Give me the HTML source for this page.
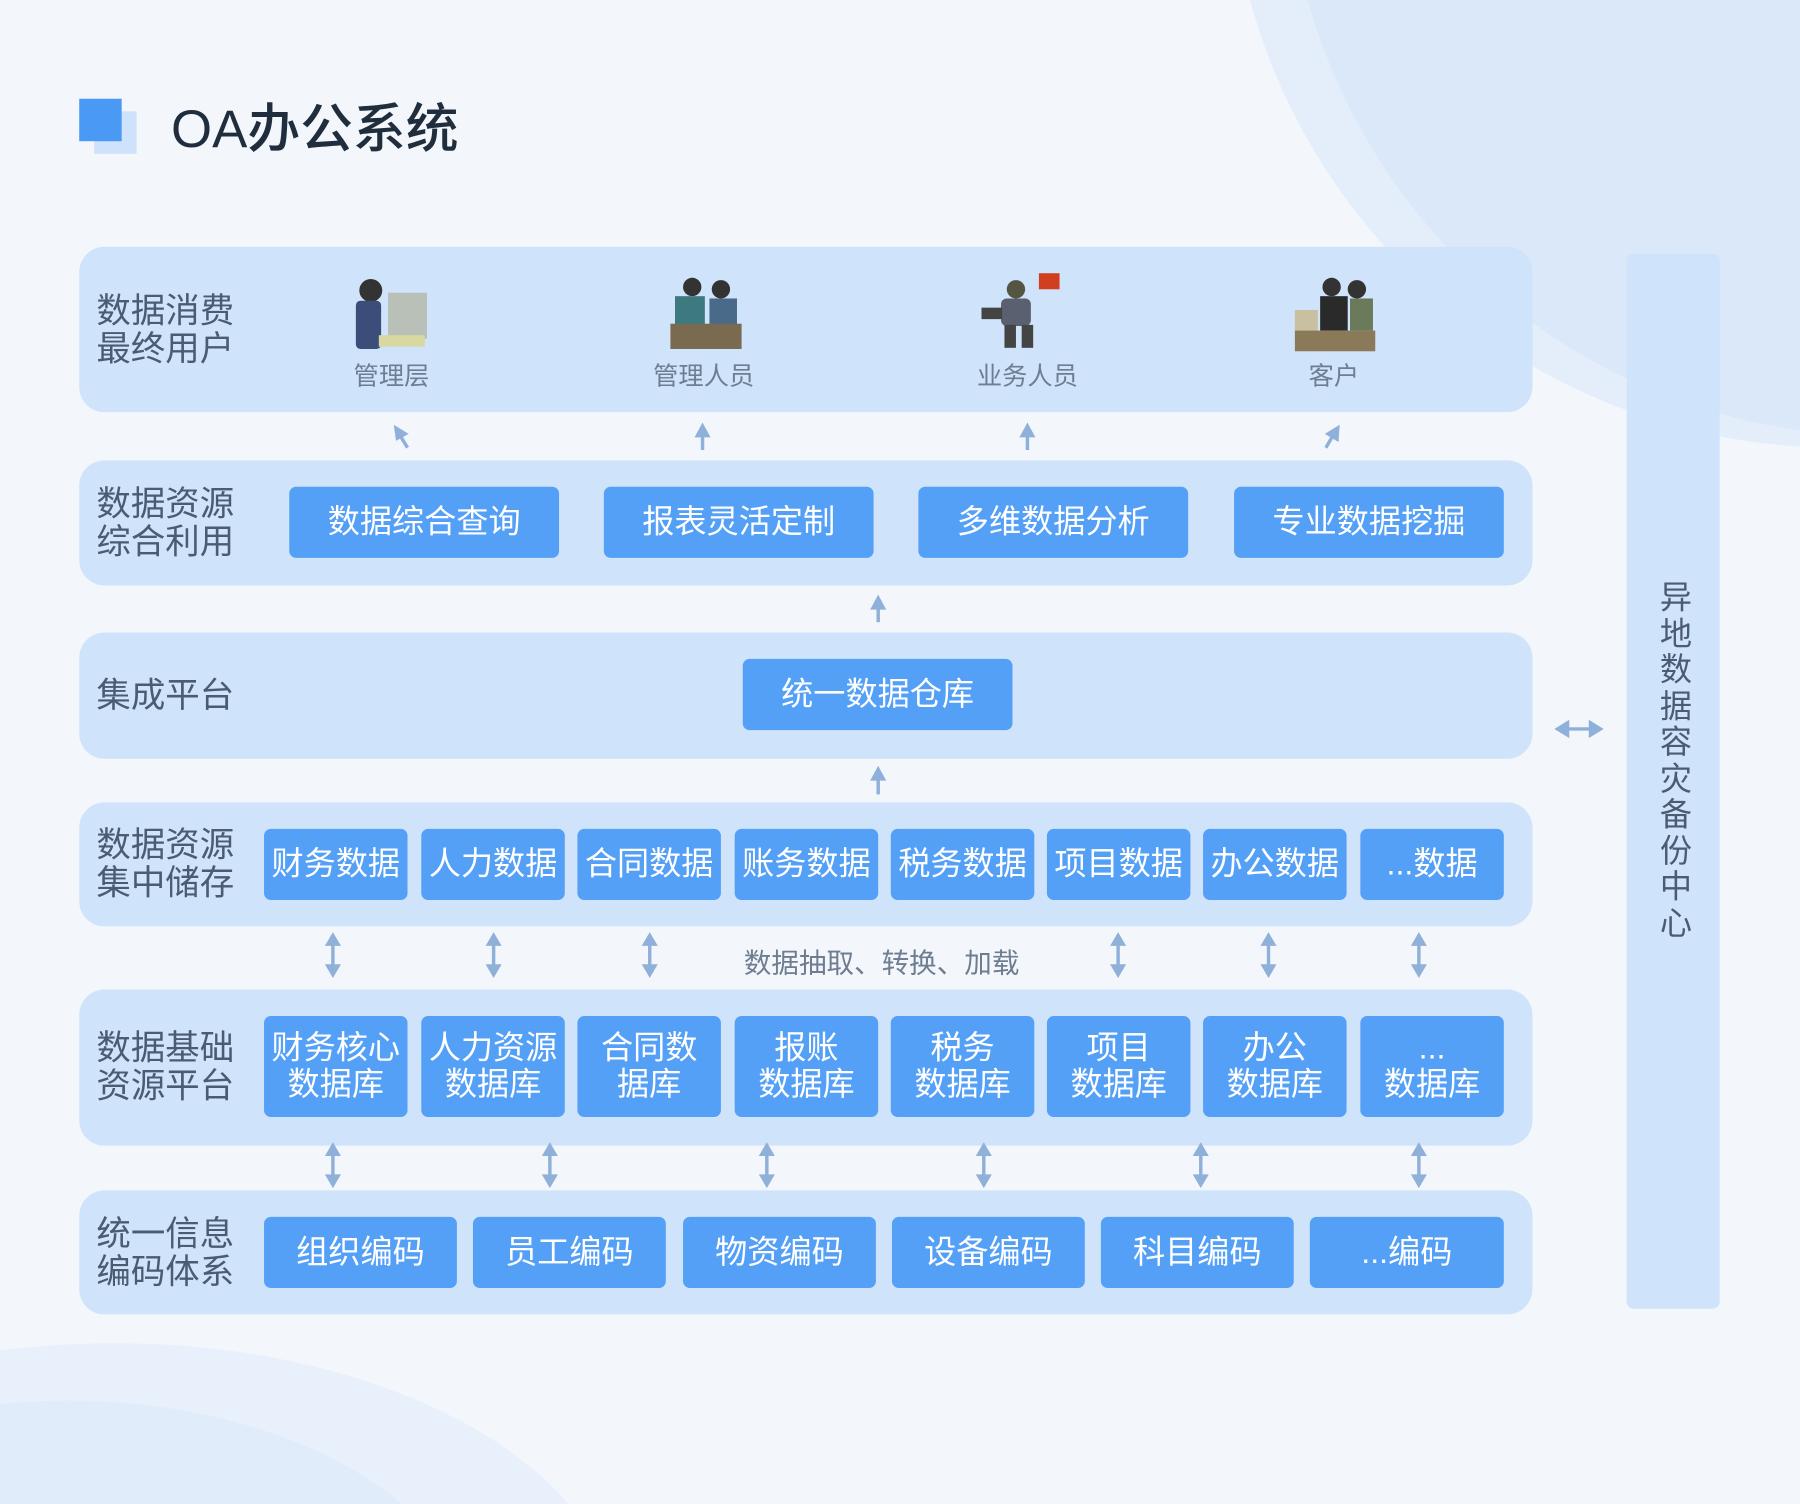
<!DOCTYPE html>
<html><head><meta charset="utf-8"><style>
html,body{margin:0;padding:0;width:1800px;height:1504px;overflow:hidden;background:#f3f7fc;position:relative}
#w{position:absolute;left:0;top:0;width:1800px;height:1504px;overflow:hidden}
#c{position:absolute;left:0;top:0;width:1568px;height:1310px;transform:scale(1.147959);transform-origin:0 0;font-family:"Liberation Sans","Noto Sans CJK SC",sans-serif;overflow:hidden}
.a{position:absolute}
.p{position:absolute;left:69px;width:1266px;background:#cfe3fb;border-radius:22px}
.lb{position:absolute;left:84px;font-size:30px;line-height:33px;color:#4b5b70}
.b{position:absolute;background:#55a0f7;color:#fff;border-radius:6px;display:flex;align-items:center;justify-content:center;text-align:center;font-size:28px;line-height:32px}
.u{position:absolute;font-size:22px;color:#6e7e90;transform:translateX(-50%);top:310px}
</style></head><body><div id="w"><div id="c">
<svg class="a" style="left:0;top:0" width="1568" height="1310">
<circle cx="1600" cy="-140" r="530" fill="#e4eefb"/>
<circle cx="1640" cy="-140" r="520" fill="#dae8fa"/>
<ellipse cx="100" cy="1420" rx="440" ry="250" fill="#e8f0fb"/>
<ellipse cx="60" cy="1440" rx="360" ry="220" fill="#e1ecfa"/>
</svg>
<div class="a" style="left:82px;top:97px;width:37px;height:37px;background:#cfe2fb"></div>
<div class="a" style="left:69px;top:86px;width:37px;height:37px;background:#4a9af5"></div>
<div class="a" style="left:149px;top:76px;font-size:46px;font-weight:500;color:#1f2d3d">OA办公系统</div>

<div class="p" style="top:215px;height:144px"></div>
<div class="p" style="top:401px;height:109px"></div>
<div class="p" style="top:551px;height:110px"></div>
<div class="p" style="top:699px;height:108px"></div>
<div class="p" style="top:862px;height:136px"></div>
<div class="p" style="top:1037px;height:108px"></div>
<div class="a" style="left:1417px;top:221px;width:81px;height:919px;background:#cfe3fb;border-radius:6px"></div>
<div class="a" style="left:1444px;top:505px;width:32px;font-size:28px;line-height:31.5px;color:#4b5b70;text-align:center">异地数据容灾备份中心</div>

<div class="lb" style="top:255px">数据消费<br>最终用户</div>
<div class="lb" style="top:423px">数据资源<br>综合利用</div>
<div class="lb" style="top:590px">集成平台</div>
<div class="lb" style="top:720px">数据资源<br>集中储存</div>
<div class="lb" style="top:897px">数据基础<br>资源平台</div>
<div class="lb" style="top:1059px">统一信息<br>编码体系</div>

<svg class="a" style="left:0;top:0" width="1568" height="1310">
<g>
<circle cx="323" cy="253" r="10" fill="#333"/><rect x="310" y="262" width="22" height="42" rx="4" fill="#3b4e7a"/><rect x="338" y="255" width="34" height="40" fill="#b8c0b8"/><rect x="330" y="292" width="40" height="10" fill="#d8d8a0"/>
<circle cx="603" cy="250" r="8" fill="#333"/><circle cx="628" cy="252" r="8" fill="#333"/><rect x="588" y="258" width="26" height="26" fill="#3d7a80"/><rect x="618" y="260" width="24" height="24" fill="#4a6a8a"/><rect x="584" y="282" width="62" height="22" fill="#7a6a50"/>
<circle cx="885" cy="252" r="8" fill="#554"/><rect x="872" y="260" width="26" height="24" rx="5" fill="#5a6070"/><rect x="875" y="283" width="10" height="20" fill="#444"/><rect x="890" y="283" width="10" height="20" fill="#444"/><rect x="905" y="238" width="18" height="14" fill="#d04020"/><rect x="855" y="268" width="18" height="10" fill="#444"/>
<circle cx="1160" cy="250" r="8" fill="#333"/><circle cx="1182" cy="252" r="8" fill="#333"/><rect x="1150" y="258" width="24" height="30" fill="#2a2a2a"/><rect x="1176" y="260" width="20" height="28" fill="#6a7a5a"/><rect x="1128" y="270" width="20" height="20" fill="#c8c0a0"/><rect x="1128" y="288" width="70" height="18" fill="#8a7a5a"/>
</g>
<g fill="#8fb0d8" stroke="#8fb0d8" stroke-width="3">
<line x1="355" y1="390" x2="347" y2="377"/><polygon points="343,370 356,378 345,384" stroke="none"/>
<line x1="612" y1="392" x2="612" y2="378"/><polygon points="612,368 619,381 605,381" stroke="none"/>
<line x1="895" y1="392" x2="895" y2="378"/><polygon points="895,368 902,381 888,381" stroke="none"/>
<line x1="1155" y1="390" x2="1162" y2="378"/><polygon points="1167,370 1166,385 1154,378" stroke="none"/>
<line x1="765" y1="542" x2="765" y2="528"/><polygon points="765,518 772,531 758,531" stroke="none"/>
<line x1="765" y1="692" x2="765" y2="677"/><polygon points="765,667 772,680 758,680" stroke="none"/>
<line x1="1362" y1="635" x2="1390" y2="635"/><polygon points="1354,635 1367,627 1367,643" stroke="none"/><polygon points="1397,635 1384,627 1384,643" stroke="none"/>
</g>
<g fill="#8fb0d8" stroke="#8fb0d8" stroke-width="3">
<g transform="translate(290,0)"><line x1="0" y1="820" x2="0" y2="844"/><polygon points="0,812 7,824 -7,824" stroke="none"/><polygon points="0,852 7,840 -7,840" stroke="none"/></g>
<g transform="translate(430,0)"><line x1="0" y1="820" x2="0" y2="844"/><polygon points="0,812 7,824 -7,824" stroke="none"/><polygon points="0,852 7,840 -7,840" stroke="none"/></g>
<g transform="translate(566,0)"><line x1="0" y1="820" x2="0" y2="844"/><polygon points="0,812 7,824 -7,824" stroke="none"/><polygon points="0,852 7,840 -7,840" stroke="none"/></g>
<g transform="translate(974,0)"><line x1="0" y1="820" x2="0" y2="844"/><polygon points="0,812 7,824 -7,824" stroke="none"/><polygon points="0,852 7,840 -7,840" stroke="none"/></g>
<g transform="translate(1105,0)"><line x1="0" y1="820" x2="0" y2="844"/><polygon points="0,812 7,824 -7,824" stroke="none"/><polygon points="0,852 7,840 -7,840" stroke="none"/></g>
<g transform="translate(1236,0)"><line x1="0" y1="820" x2="0" y2="844"/><polygon points="0,812 7,824 -7,824" stroke="none"/><polygon points="0,852 7,840 -7,840" stroke="none"/></g>
<g transform="translate(290,183)"><line x1="0" y1="820" x2="0" y2="844"/><polygon points="0,812 7,824 -7,824" stroke="none"/><polygon points="0,852 7,840 -7,840" stroke="none"/></g>
<g transform="translate(479,183)"><line x1="0" y1="820" x2="0" y2="844"/><polygon points="0,812 7,824 -7,824" stroke="none"/><polygon points="0,852 7,840 -7,840" stroke="none"/></g>
<g transform="translate(668,183)"><line x1="0" y1="820" x2="0" y2="844"/><polygon points="0,812 7,824 -7,824" stroke="none"/><polygon points="0,852 7,840 -7,840" stroke="none"/></g>
<g transform="translate(857,183)"><line x1="0" y1="820" x2="0" y2="844"/><polygon points="0,812 7,824 -7,824" stroke="none"/><polygon points="0,852 7,840 -7,840" stroke="none"/></g>
<g transform="translate(1046,183)"><line x1="0" y1="820" x2="0" y2="844"/><polygon points="0,812 7,824 -7,824" stroke="none"/><polygon points="0,852 7,840 -7,840" stroke="none"/></g>
<g transform="translate(1236,183)"><line x1="0" y1="820" x2="0" y2="844"/><polygon points="0,812 7,824 -7,824" stroke="none"/><polygon points="0,852 7,840 -7,840" stroke="none"/></g>
</g>
</svg>
<div class="a" style="left:648px;top:819px;font-size:24px;color:#6e7e90">数据抽取、转换、加载</div>

<div class="u" style="left:341px">管理层</div>
<div class="u" style="left:613px">管理人员</div>
<div class="u" style="left:895px">业务人员</div>
<div class="u" style="left:1162px">客户</div>

<div class="b" style="left:252px;top:424px;width:235px;height:62px">数据综合查询</div>
<div class="b" style="left:526px;top:424px;width:235px;height:62px">报表灵活定制</div>
<div class="b" style="left:800px;top:424px;width:235px;height:62px">多维数据分析</div>
<div class="b" style="left:1075px;top:424px;width:235px;height:62px">专业数据挖掘</div>
<div class="b" style="left:647px;top:574px;width:235px;height:62px">统一数据仓库</div>

<div class="b" style="left:230px;top:722px;width:125px;height:62px">财务数据</div>
<div class="b" style="left:367px;top:722px;width:125px;height:62px">人力数据</div>
<div class="b" style="left:503px;top:722px;width:125px;height:62px">合同数据</div>
<div class="b" style="left:640px;top:722px;width:125px;height:62px">账务数据</div>
<div class="b" style="left:776px;top:722px;width:125px;height:62px">税务数据</div>
<div class="b" style="left:912px;top:722px;width:125px;height:62px">项目数据</div>
<div class="b" style="left:1048px;top:722px;width:125px;height:62px">办公数据</div>
<div class="b" style="left:1185px;top:722px;width:125px;height:62px">...数据</div>

<div class="b" style="left:230px;top:885px;width:125px;height:88px">财务核心<br>数据库</div>
<div class="b" style="left:367px;top:885px;width:125px;height:88px">人力资源<br>数据库</div>
<div class="b" style="left:503px;top:885px;width:125px;height:88px">合同数<br>据库</div>
<div class="b" style="left:640px;top:885px;width:125px;height:88px">报账<br>数据库</div>
<div class="b" style="left:776px;top:885px;width:125px;height:88px">税务<br>数据库</div>
<div class="b" style="left:912px;top:885px;width:125px;height:88px">项目<br>数据库</div>
<div class="b" style="left:1048px;top:885px;width:125px;height:88px">办公<br>数据库</div>
<div class="b" style="left:1185px;top:885px;width:125px;height:88px">...<br>数据库</div>

<div class="b" style="left:230px;top:1060px;width:168px;height:62px">组织编码</div>
<div class="b" style="left:412px;top:1060px;width:168px;height:62px">员工编码</div>
<div class="b" style="left:595px;top:1060px;width:168px;height:62px">物资编码</div>
<div class="b" style="left:777px;top:1060px;width:168px;height:62px">设备编码</div>
<div class="b" style="left:959px;top:1060px;width:168px;height:62px">科目编码</div>
<div class="b" style="left:1141px;top:1060px;width:169px;height:62px">...编码</div>
</div></div></body></html>
